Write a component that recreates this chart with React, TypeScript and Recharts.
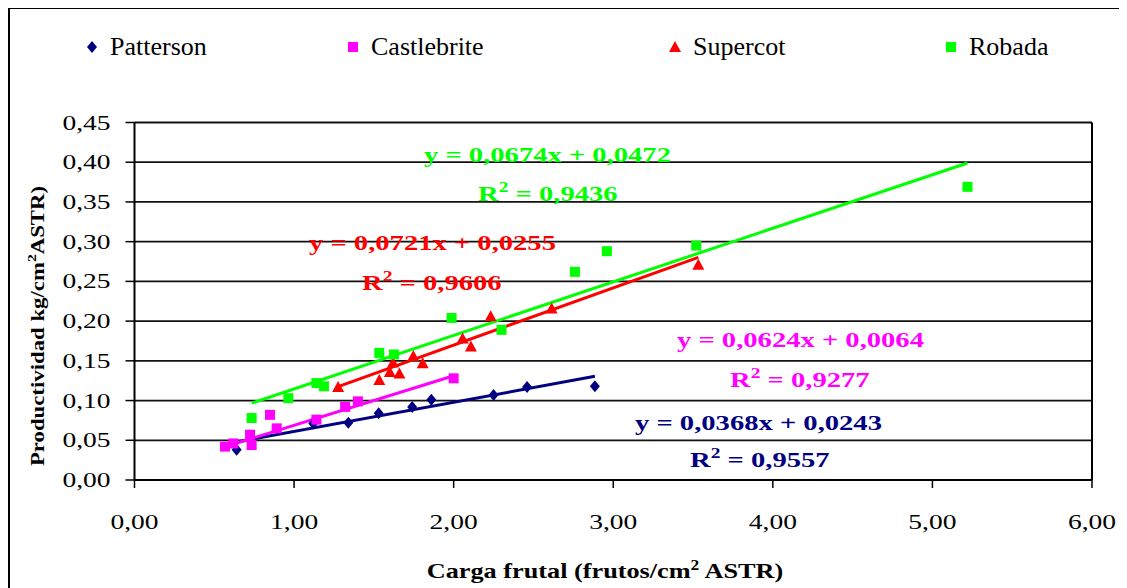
import { ScatterChart, Scatter, XAxis, YAxis, CartesianGrid, ReferenceLine, Customized } from "recharts";

// measured points (x = carga frutal, y = productividad)
const pattersonX = [0.64, 1.12, 1.34, 1.53, 1.74, 1.86, 2.25, 2.46, 2.885];
const pattersonY = [0.038, 0.071, 0.072, 0.084, 0.092, 0.101, 0.107, 0.117, 0.118];

const castlebriteX = [0.567, 0.619, 0.724, 0.734, 0.891, 0.849, 1.14, 1.32, 1.4, 2.0];
const castlebriteY = [0.042, 0.046, 0.057, 0.044, 0.065, 0.082, 0.076, 0.092, 0.099, 0.128];

const supercotX = [1.276, 1.534, 1.6, 1.62, 1.66, 1.747, 1.806, 2.056, 2.108, 2.232, 2.614, 3.533];
const supercotY = [0.117, 0.126, 0.136, 0.148, 0.134, 0.156, 0.147, 0.178, 0.168, 0.206, 0.216, 0.271];

const robadaX = [0.734, 0.964, 1.14, 1.187, 1.534, 1.626, 1.987, 2.3, 2.76, 2.96, 3.52, 5.22];
const robadaY = [0.078, 0.103, 0.122, 0.118, 0.16, 0.158, 0.204, 0.189, 0.262, 0.288, 0.295, 0.369];

const seriesNames = ["Patterson", "Castlebrite", "Supercot", "Robada"];
const seriesColors = ["#000080", "#FF00FF", "#FF0000", "#00FF00"];
const slopes = [0.0368, 0.0624, 0.0721, 0.0674];
const intercepts = [0.0243, 0.0064, 0.0255, 0.0472];
const r2Values = [0.9557, 0.9277, 0.9606, 0.9436];

const xTicks = [0, 1, 2, 3, 4, 5, 6];
const yTicks = [0, 0.05, 0.1, 0.15, 0.2, 0.25, 0.3, 0.35, 0.4, 0.45];

const FONT = '"Liberation Serif", "Times New Roman", serif';

const xs = [pattersonX, castlebriteX, supercotX, robadaX];
const ys = [pattersonY, castlebriteY, supercotY, robadaY];

const pointData = xs.map((arr, s) => arr.map((x, i) => ({ x, y: ys[s][i] })));

const trendData = xs.map((arr, s) => {
  const lo = Math.min(...arr);
  const hi = Math.max(...arr);
  return [
    { x: lo, y: slopes[s] * lo + intercepts[s] },
    { x: hi, y: slopes[s] * hi + intercepts[s] },
  ];
});

const comma = (v: number, d: number) => v.toFixed(d).replace(".", ",");

// marker shapes
const marker = (kind: number, cx: number, cy: number, color: string) => {
  if (kind === 0)
    return <path d={`M${cx},${cy - 6}L${cx + 5},${cy}L${cx},${cy + 6}L${cx - 5},${cy}Z`} fill={color} />;
  if (kind === 2)
    return <path d={`M${cx},${cy - 6}L${cx + 6},${cy + 5}L${cx - 6},${cy + 5}Z`} fill={color} />;
  return <rect x={cx - 5} y={cy - 5} width={10} height={10} fill={color} />;
};

const XTick = (p: any) => (
  <text
    transform={`translate(${p.x},${p.y + 17}) scale(1.25,1)`}
    textAnchor="middle"
    fontFamily={FONT}
    fontSize={22}
    fill="#000"
  >
    {comma(p.payload.value, 2)}
  </text>
);

const YTick = (p: any) => (
  <text
    transform={`translate(${p.x},${p.y + 7}) scale(1.25,1)`}
    textAnchor="end"
    fontFamily={FONT}
    fontSize={22}
    fill="#000"
  >
    {comma(p.payload.value, 2)}
  </text>
);

// label positions in svg coords
const eqPos = [
  { ex: 625, ey: 421, rx: 680, ry: 458 },
  { ex: 667, ey: 338, rx: 720, ry: 378 },
  { ex: 299, ey: 241, rx: 352, ry: 281 },
  { ex: 414, ey: 153, rx: 468, ry: 192 },
];
const legendPos = [82, 343, 665, 941];

const Annotations = () => (
  <g fontFamily={FONT}>
    {seriesNames.map((name, i) => (
      <g key={name}>
        {marker(i, legendPos[i], 38, seriesColors[i])}
        <text x={legendPos[i] + 18} y={46} fontSize={26} fill="#000">
          {name}
        </text>
      </g>
    ))}
    {eqPos.map((p, i) => (
      <g key={i} fill={seriesColors[i]} fontWeight="bold" fontSize={22}>
        <text transform={`translate(${p.ex},${p.ey}) scale(1.3,1)`}>
          {`y = ${comma(slopes[i], 4)}x + ${comma(intercepts[i], 4)}`}
        </text>
        <text transform={`translate(${p.rx},${p.ry}) scale(1.3,1)`}>
          R<tspan dy={-9} fontSize={15}>2</tspan>
          <tspan dy={9}>{` = ${comma(r2Values[i], 4)}`}</tspan>
        </text>
      </g>
    ))}
    <text
      transform="translate(595,569) scale(1.25,1)"
      textAnchor="middle"
      fontWeight="bold"
      fontSize={21}
      fill="#000"
    >
      Carga frutal (frutos/cm<tspan dy={-8} fontSize={14}>2</tspan>
      <tspan dy={8}> ASTR)</tspan>
    </text>
    <text
      transform="translate(34,317) rotate(-90) scale(1.2,1)"
      textAnchor="middle"
      fontWeight="bold"
      fontSize={19}
      fill="#000"
    >
      Productividad  kg/cm<tspan dy={-8} fontSize={13}>2</tspan>
      <tspan dy={8}>ASTR)</tspan>
    </text>
  </g>
);

export default function App() {
  return (
    <div
      style={{
        width: 1113,
        height: 590,
        border: "2px solid #000",
        marginTop: -1,
        background: "#fff",
      }}
    >
      <ScatterChart
        width={1113}
        height={580}
        margin={{ top: 113.5, right: 31, left: 54.5, bottom: 49 }}
      >
        <CartesianGrid vertical={false} stroke="#111" strokeWidth={1.8} />
        <XAxis
          type="number"
          dataKey="x"
          domain={[0, 6]}
          ticks={xTicks}
          height={60}
          axisLine={{ stroke: "#000", strokeWidth: 2 }}
          tickLine={{ stroke: "#000", strokeWidth: 1.5 }}
          tickSize={8}
          tickMargin={24}
          tick={XTick}
        />
        <YAxis
          type="number"
          dataKey="y"
          domain={[0, 0.45]}
          ticks={yTicks}
          width={70}
          axisLine={{ stroke: "#000", strokeWidth: 2 }}
          tickLine={{ stroke: "#000", strokeWidth: 1.5 }}
          tickSize={9}
          tickMargin={15}
          tick={YTick}
        />
        <ReferenceLine x={6} stroke="#000" strokeWidth={2} />
        {trendData.map((d, i) => (
          <Scatter
            key={`trend-${i}`}
            data={d}
            line={{ stroke: seriesColors[i], strokeWidth: 3 }}
            shape={() => <g />}
            legendType="none"
            isAnimationActive={false}
          />
        ))}
        {pointData.map((d, i) => (
          <Scatter
            key={seriesNames[i]}
            name={seriesNames[i]}
            data={d}
            fill={seriesColors[i]}
            shape={(p: any) => marker(i, p.cx, p.cy, seriesColors[i])}
            isAnimationActive={false}
          />
        ))}
        <Customized component={Annotations} />
      </ScatterChart>
    </div>
  );
}
